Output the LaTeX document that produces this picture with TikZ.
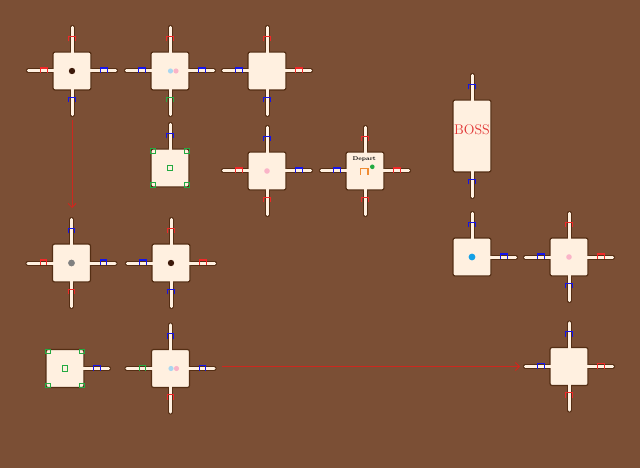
\documentclass[tikz,border=0pt]{standalone}
\usetikzlibrary{calc,backgrounds,arrows.meta}
\definecolor{dirt}{RGB}{123,79,53}
\definecolor{floor}{RGB}{255,240,224}
\definecolor{wallc}{RGB}{84,46,20}
\definecolor{keyred}{RGB}{240,40,40}
\definecolor{keyblue}{RGB}{20,20,235}
\definecolor{keygreen}{RGB}{35,170,65}
\definecolor{linkred}{RGB}{205,40,30}
\definecolor{bossred}{RGB}{225,50,50}
\definecolor{startc}{RGB}{240,140,50}
\definecolor{darkdot}{RGB}{60,25,10}
\definecolor{pinkdot}{RGB}{250,180,200}
\definecolor{skydot}{RGB}{170,215,240}
\definecolor{bluedot}{RGB}{20,160,230}
\tikzset{
	room/.style={draw=wallc, fill=floor, line width=1.2pt, rounded corners=2pt, minimum size=38pt, inner sep=0pt},
	wall/.style={wallc, line width=5pt, line cap=round},
	hall/.style={floor, line width=3pt, line cap=round},
	door/.pic={\draw[line width=1.1pt] (-3.3,2) -- (-3.3,-3) -- (3.3,-3) -- (3.3,2);},
	gap north/.initial=12pt, gap south/.initial=9.5pt,
	gap west/.initial=8.4pt, gap east/.initial=12.4pt,
	keybox/.style={draw=keygreen, line width=1pt, minimum size=4.5pt, inner sep=0pt},
	link/.style={linkred, line width=1pt, -{Straight Barb[length=4pt,width=8pt]}}
}
\begin{document}
\begin{tikzpicture}[x=1pt, y=-1pt]
		\useasboundingbox (0,0) rectangle (640,468);
		\begin{scope}[on background layer]
			\fill[dirt] (0,0) rectangle (640,468);
		\end{scope}
		% rooms
		\node[room] (A) at (72,71) {};
		\node[room] (B) at (170,71) {};
		\node[room] (C) at (267,71) {};
		\node[room] (D) at (170,168) {};
		\node[room] (E) at (267,171) {};
		\node[room] (F) at (365,171) {};
		\node[room, minimum height=72pt] (boss) at (472,136) {};
		\node[room] (G) at (71.5,263) {};
		\node[room] (H) at (171,263) {};
		\node[room] (I) at (472,257) {};
		\node[room] (J) at (569,257) {};
		\node[room] (K) at (65,368.5) {};
		\node[room] (L) at (170.5,368.5) {};
		\node[room] (M) at (569,366.5) {};
		% corridors and doors
		\foreach \r/\a/\col in {A/north/keyred, A/west/keyred, A/east/keyblue, A/south/keyblue,
				B/north/keyred, B/west/keyblue, B/east/keyblue, B/south/keygreen,
				C/north/keyred, C/west/keyblue, C/east/keyred, C/south/keyblue,
				D/north/keyblue,
				E/north/keyblue, E/west/keyred, E/east/keyblue, E/south/keyred,
				F/north/keyred, F/west/keyblue, F/east/keyred, F/south/keyred,
				boss/north/keyblue, boss/south/keyblue,
				G/north/keyblue, G/west/keyred, G/east/keyblue, G/south/keyred,
				H/north/keyred, H/west/keyblue, H/east/keyred, H/south/keyblue,
				I/north/keyblue, I/east/keyblue,
				J/north/keyred, J/west/keyblue, J/east/keyred, J/south/keyblue,
				K/east/keyblue,
				L/north/keyblue, L/west/keygreen, L/east/keyblue, L/south/keyred,
				M/north/keyblue, M/west/keyblue, M/east/keyred, M/south/keyred}{
			\begin{scope}[on background layer]
				\draw[wall] (\r.\a) -- ($(\r.\a)!-24pt!(\r.center)$);
			\end{scope}
			\draw[hall] ($(\r.\a)!2pt!(\r.center)$) -- ($(\r.\a)!-24pt!(\r.center)$);
			\pic[color=\col] at ($(\r.\a)!-\pgfkeysvalueof{/tikz/gap \a}!(\r.center)$) {door};
		}
		% items
		\fill[darkdot] (A) circle (3.2);
		\fill[skydot] ($(B)+(0.5,0)$) circle (2.6);
		\fill[pinkdot] ($(B)+(6,0)$) circle (2.6);
		\fill[pinkdot] (E) circle (2.8);
		\fill[darkdot] (H) circle (3.2);
		\fill[gray] (G) circle (3.4);
		\fill[bluedot] (I) circle (3.4);
		\fill[pinkdot] (J) circle (2.8);
		\fill[skydot] ($(L)+(0.5,0)$) circle (2.6);
		\fill[pinkdot] ($(L)+(6,0)$) circle (2.6);
		\foreach \r in {D,K}{
			\foreach \dx/\dy/\k in {-17/-17/1, 17/-17/2, -17/17/3, 17/17/4}
				\node[keybox] (\r k\k) at ($(\r)+(\dx,\dy)$) {};
			\node[keybox, minimum size=5.8pt] (\r k0) at (\r) {};
		}
		% start and boss
		\node[font=\bfseries\fontsize{5.5}{6}\selectfont, inner sep=0pt] (depart) at ($(F)+(-0.7,-12)$) {Depart};
		\draw[startc, line width=1.1pt] ($(F)+(-4.3,3.9)$) -- ++(0,-6) -- ++(7.3,0) -- ++(0,6);
		\fill[keygreen] ($(F)+(7.3,-4.2)$) circle (2.3);
		\node[text=bossred, font=\fontsize{14}{14}\selectfont, inner sep=0pt] (bosslabel) at (472,130) {BOSS};
		% links
		\draw[link, shorten <=29.4pt, shorten >=35.4pt] (A.south) -- (A.south |- G.north);
		\draw[link, shorten <=31.6pt, shorten >=29.4pt] (L.east |- M.west) -- (M.west);
\end{tikzpicture}
\end{document}
